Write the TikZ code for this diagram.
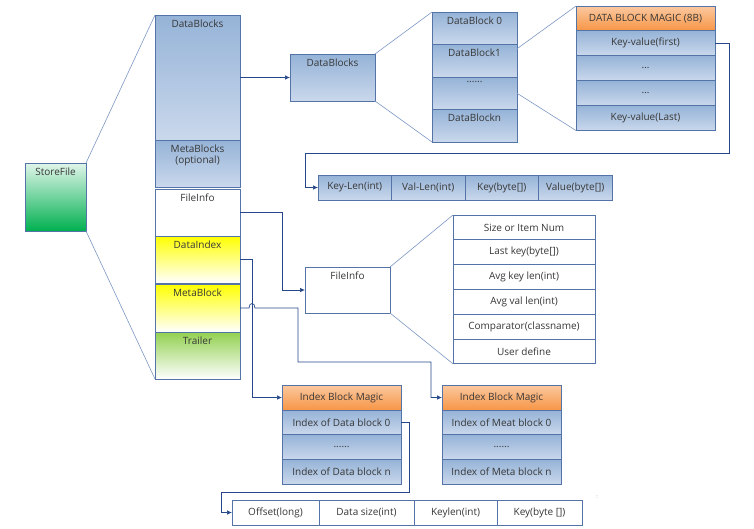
\documentclass[tikz,border=0pt]{standalone}
\usepackage{fontspec}
\setmainfont{Open Sans}
\usetikzlibrary{arrows.meta}

\definecolor{bord}{RGB}{84,116,168}
\definecolor{fanln}{RGB}{125,150,195}
\definecolor{link}{RGB}{38,72,138}
\definecolor{txt}{RGB}{55,55,55}
\definecolor{blueT}{RGB}{149,179,215}
\definecolor{blueB}{RGB}{202,216,236}
\definecolor{orangeT}{RGB}{251,200,160}
\definecolor{orangeB}{RGB}{247,150,70}
\definecolor{greenSF}{RGB}{0,176,80}
\definecolor{greenTR}{RGB}{146,208,80}

\newcommand\lbl{\fontsize{10}{11.5}\selectfont}
\newcommand\sixdots{......}

\tikzset{
  box/.style={draw=bord, line width=0.7pt, anchor=north west, inner sep=0pt,
    outer sep=0pt, font=\lbl, text=txt},
  bluebox/.style={box, top color=blueT, bottom color=blueB},
  orangebox/.style={box, top color=orangeT, bottom color=orangeB},
  whitebox/.style={box, fill=white},
  toptext/.style={label={[anchor=north, inner sep=0pt, yshift=-4.5pt, font=\lbl,
    text=txt, align=center]north:#1}},
  fan/.style={draw=fanln, line width=0.6pt},
  link/.style={draw=link, line width=0.7pt, -{Latex[length=5pt,width=4.5pt]}},
}

\begin{document}
\begin{tikzpicture}[x=1pt, y=-1pt]
    \useasboundingbox (0,0) rectangle (754,528);

    % store file and its parts
    \node[box, top color=greenSF!12, bottom color=greenSF, minimum width=61pt,
      minimum height=68pt, toptext=StoreFile] (sf) at (25,163) {};
    \node[bluebox, minimum width=85pt, minimum height=125pt, toptext=DataBlocks] (cdb) at (155,15) {};
    \node[bluebox, minimum width=85pt, minimum height=47pt,
      toptext={MetaBlocks\\(optional)}] (cmb) at (155,140) {};
    \node[whitebox, minimum width=85pt, minimum height=47pt, toptext=FileInfo] (cfi) at (155,189) {};
    \node[box, top color=yellow, bottom color=white, minimum width=85pt,
      minimum height=47pt, toptext=DataIndex] (cdi) at (155,236) {};
    \node[box, top color=yellow, bottom color=white, minimum width=85pt,
      minimum height=48pt, toptext=MetaBlock] (cmeta) at (155,284) {};
    \node[box, top color=greenTR, bottom color=white, minimum width=85pt,
      minimum height=47pt, toptext=Trailer] (ctr) at (155,332) {};
    \draw[fan] (sf.north east) -- (cdb.north west);
    \draw[fan] (sf.south east) -- (ctr.south west);

    % data blocks
    \node[bluebox, minimum width=85pt, minimum height=47pt, toptext=DataBlocks] (db2) at (290,54) {};
    \draw[link] (cdb.east) -- (db2.west);
    \foreach \t [count=\i from 0] in {DataBlock 0,DataBlock1,\sixdots,DataBlockn}
        \node[bluebox, minimum width=85pt, minimum height=32.5pt, toptext=\t] (dbl\i) at (432,12+32.5*\i) {};
    \draw[fan] (db2.north east) -- (dbl0.north west);
    \draw[fan] (db2.south east) -- (dbl3.south west);

    % one data block
    \node[orangebox, minimum width=139pt, minimum height=24.5pt] (kv0) at (576,6) {DATA BLOCK MAGIC (8B)};
    \foreach \t [count=\i] in {Key-value(first),\ldots,\ldots,Key-value(Last)}
        \node[bluebox, minimum width=139pt, minimum height=25pt] (kv\i) at (576,5.5+25*\i) {\t};
    \draw[fan] ([yshift=12pt]dbl1.east) -- (kv0.north west);
    \draw[fan] (dbl2.east) -- (kv4.south west);

    % key value layout
    \foreach \t [count=\i from 0] in {Key-Len(int),Val-Len(int),Key(byte[]),Value(byte[])}
        \node[bluebox, minimum width=73.5pt, minimum height=25pt] (kl\i) at (318+73.5*\i,175) {\t};
    \draw[link] (kv1.east) -- ++(14,0) -- ++(0,110) -| ([xshift=-13pt]kl0.west) -- (kl0.west);

    % file info
    \node[whitebox, minimum width=85pt, minimum height=46pt, toptext=FileInfo] (fi2) at (305,267) {};
    \draw[link] (cfi.east) -- ++(42,0) |- (fi2.west);
    \foreach \t [count=\i from 0] in {Size or Item Num,Last key(byte[]),Avg key len(int),
      Avg val len(int),Comparator(classname),User define}
        \node[whitebox, minimum width=142pt, minimum height=24.8pt] (fl\i) at (453,215+24.8*\i) {\t};
    \draw[fan] (fi2.north east) -- (fl0.north west);
    \draw[fan] (fi2.south east) -- (fl5.south west);

    % data index
    \node[orangebox, minimum width=119pt, minimum height=25pt] (idm) at (282,385) {Index Block Magic};
    \foreach \t [count=\i from 0] in {Index of Data block 0,\sixdots,Index of Data block n}
        \node[bluebox, minimum width=119pt, minimum height=24.7pt] (id\i) at (282,410+24.7*\i) {\t};
    \draw[link] (cdi.east) -- ++(12,0) |- (idm.west);

    % meta index
    \node[orangebox, minimum width=119pt, minimum height=25pt] (imm) at (442,385) {Index Block Magic};
    \foreach \t [count=\i from 0] in {Index of Meat block 0,\sixdots,Index of Meta block n}
        \node[bluebox, minimum width=119pt, minimum height=24.7pt] (im\i) at (442,410+24.7*\i) {\t};
    \draw[link] (cmeta.east) -- (249,308) .. controls (249,302) and (255,302) .. (255,308)
        -- (298,308) -- (298,362) -| ([xshift=-11pt]imm.west) -- (imm.west);

    % index entry layout
    \foreach \x/\w/\t [count=\i] in {232/87/Offset(long),319/95/Data size(int),
      414/83/Keylen(int),497/85/Key(byte [])}
        \node[whitebox, minimum width=\w pt, minimum height=25pt] (of\i) at (\x,500) {\t};
    \draw[link] (id0.east) -- ++(8,0) -- ++(0,70) -| ([xshift=-11pt]of1.west) -- (of1.west);

    \node[font=\tiny, text=gray] (mark) at (597,497) {:};
\end{tikzpicture}
\end{document}
